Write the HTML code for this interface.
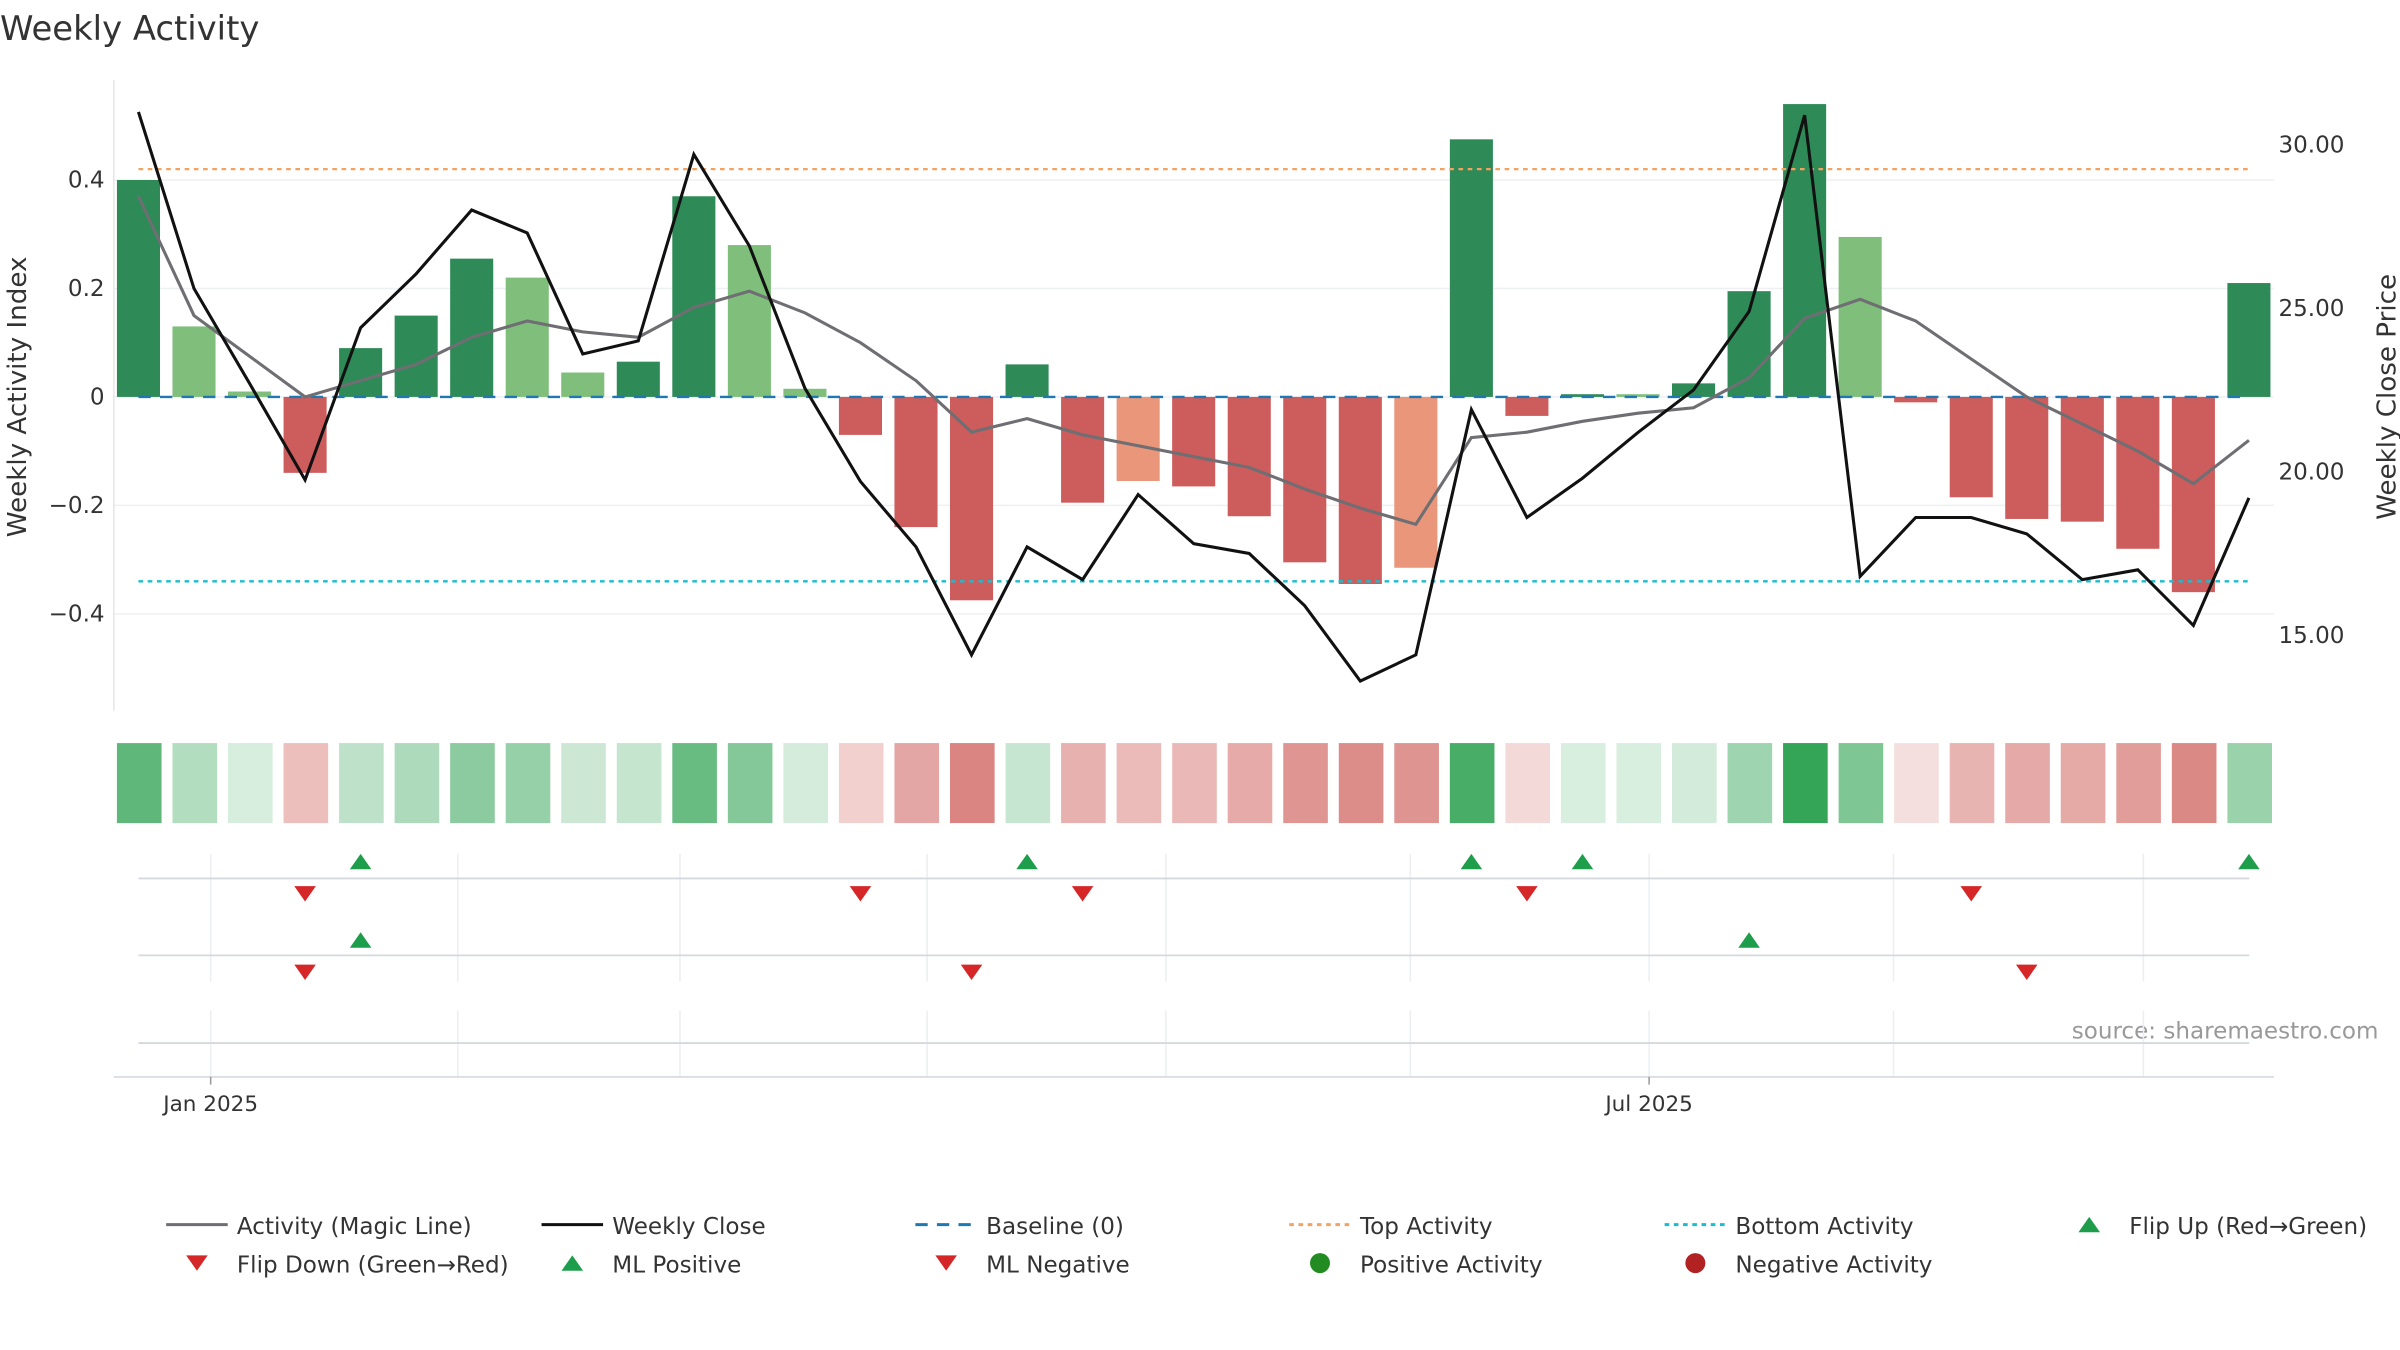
<!DOCTYPE html>
<html><head><meta charset="utf-8"><style>
html,body{margin:0;padding:0;background:#fff;}
svg{display:block;font-family:"DejaVu Sans","Liberation Sans",sans-serif;}
</style></head><body>
<svg id="c" width="2400" height="1350" viewBox="0 0 1560 877.5" xmlns="http://www.w3.org/2000/svg">
<text x="0" y="26" font-size="22" fill="#333">Weekly Activity</text>
<text transform="translate(17,258) rotate(-90)" text-anchor="middle" font-size="17" fill="#333">Weekly Activity Index</text>
<text transform="translate(1557,258) rotate(-90)" text-anchor="middle" font-size="17" fill="#333">Weekly Close Price</text>
<text x="1546" y="675" text-anchor="end" font-size="15" fill="#999">source: sharemaestro.com</text>
<g id="g"></g>
</svg>
<script>
const activity=[0.40,0.13,0.01,-0.14,0.09,0.15,0.255,0.22,0.045,0.065,0.37,0.28,0.015,-0.07,-0.24,-0.375,0.06,-0.195,-0.155,-0.165,-0.22,-0.305,-0.345,-0.315,0.475,-0.035,0.005,0.005,0.025,0.195,0.54,0.295,-0.01,-0.185,-0.225,-0.23,-0.28,-0.36,0.21];
const barKind=["d","l","l","r","d","d","d","l","l","d","d","l","l","r","r","r","d","r","s","r","r","r","r","s","d","r","d","l","d","d","d","l","r","r","r","r","r","r","d"];
const magic=[0.37,0.15,0.075,0.0,0.03,0.06,0.11,0.14,0.12,0.11,0.165,0.195,0.155,0.10,0.03,-0.065,-0.04,-0.07,-0.09,-0.11,-0.13,-0.17,-0.205,-0.235,-0.075,-0.065,-0.045,-0.03,-0.02,0.035,0.145,0.18,0.14,0.07,0.0,-0.05,-0.10,-0.16,-0.08];
const close=[31.0,25.6,22.7,19.75,24.4,26.05,28.0,27.3,23.6,24.0,29.7,26.9,22.55,19.7,17.7,14.4,17.7,16.7,19.3,17.8,17.5,15.9,13.6,14.4,21.9,18.6,19.8,21.2,22.5,24.9,30.9,16.8,18.6,18.6,18.1,16.7,17.0,15.3,19.2];
const flipUp1=[4,16,24,26,38], flipDown1=[3,13,17,25,33];
const mlPos=[4,29], mlNeg=[3,15,34];
const leftTicks=[0.4,0.2,0,-0.2,-0.4], leftTickLabels=["0.4","0.2","0","−0.2","−0.4"];
const rightTicks=[30,25,20,15], rightTickLabels=["30.00","25.00","20.00","15.00"];
const topActivity=0.42, bottomActivity=-0.34;
const monthIdx=[1.3,5.75,9.75,14.2,18.5,22.9,27.2,31.6,36.1];
const dateLabels=[["Jan 2025",1.3],["Jul 2025",27.2]];

const NS="http://www.w3.org/2000/svg", g=document.getElementById('g');
function el(t,a,p){const e=document.createElementNS(NS,t);for(const k in a)e.setAttribute(k,a[k]);(p||g).appendChild(e);return e;}
const X=i=>90+i*36.1;
const Y=v=>258-v*352.5;
const Y2=p=>94+(30-p)*21.26;

// grid
leftTicks.forEach((t,i)=>{
 const l=el('line',{x1:74,x2:1478,y1:Y(t),y2:Y(t),stroke:'#eef0f3','stroke-width':1});
 
 const tx=el('text',{x:68,y:Y(t)+5,'text-anchor':'end','font-size':15,fill:'#333'});tx.textContent=leftTickLabels[i];
 
});
rightTicks.forEach((t,i)=>{
 const tx=el('text',{x:1481,y:Y2(t)+5,'font-size':15,fill:'#333'});tx.textContent=rightTickLabels[i];
 
});
el('line',{x1:74,x2:74,y1:52,y2:462,stroke:'#e6e6e6'});
// bars
const colors={d:'#2e8b57',l:'#7fbf7b',r:'#cd5c5c',s:'#e9967a'};
activity.forEach((v,i)=>{
 const b=el('rect',{x:X(i)-14,y:Math.min(Y(v),Y(0)),width:28,height:Math.abs(Y(v)-Y(0)),fill:colors[barKind[i]]});
 
});
// reference lines
let r=el('line',{x1:90,x2:1462,y1:Y(0),y2:Y(0),stroke:'#1f77b4','stroke-width':1.5,'stroke-dasharray':'8,6'});

r=el('line',{x1:90,x2:1462,y1:Y(topActivity),y2:Y(topActivity),stroke:'#f4a261','stroke-width':1.5,'stroke-dasharray':'3,3'});

r=el('line',{x1:90,x2:1462,y1:Y(bottomActivity),y2:Y(bottomActivity),stroke:'#17becf','stroke-width':1.5,'stroke-dasharray':'3,3'});

// lines
let p=el('polyline',{points:magic.map((v,i)=>X(i)+','+Y(v)).join(' '),fill:'none',stroke:'#6e6e73','stroke-width':2});

p=el('polyline',{points:close.map((v,i)=>X(i)+','+Y2(v)).join(' '),fill:'none',stroke:'#111','stroke-width':2});

// heatmap
activity.forEach((v,i)=>{
 const a=Math.min(1,0.18+0.82*Math.abs(v)/0.55);
 const c=v>=0?'rgba(49,163,84,'+a+')':'rgba(205,90,85,'+a+')';
 const h=el('rect',{x:X(i)-14,y:483,width:29,height:52,fill:c});
 
});
// marker rows
monthIdx.forEach(m=>{
 el('line',{x1:X(m),x2:X(m),y1:555,y2:638,stroke:'#eceef2'});
 el('line',{x1:X(m),x2:X(m),y1:657,y2:700,stroke:'#eceef2'});
});
[571,621,678].forEach(y=>{const l=el('line',{x1:90,x2:1462,y1:y,y2:y,stroke:'#d5d8dd','stroke-width':1.2});
 });
function up(i,y,name){const t=el('polygon',{points:`${X(i)-7},${y+5} ${X(i)+7},${y+5} ${X(i)},${y-5}`,fill:'#1e9e4a'});
 }
function dn(i,y,name){const t=el('polygon',{points:`${X(i)-7},${y-5} ${X(i)+7},${y-5} ${X(i)},${y+5}`,fill:'#d62728'});
 }
flipUp1.forEach(i=>up(i,560,'flip-up-marker'));
flipDown1.forEach(i=>dn(i,581,'flip-down-marker'));
mlPos.forEach(i=>up(i,611,'ml-positive-marker'));
mlNeg.forEach(i=>dn(i,632,'ml-negative-marker'));
// x axis
el('line',{x1:74,x2:1478,y1:700,y2:700,stroke:'#d5d8dd'});
dateLabels.forEach(([s,i])=>{
 el('line',{x1:X(i),x2:X(i),y1:700,y2:705,stroke:'#999'});
 const t=el('text',{x:X(i),y:722,'text-anchor':'middle','font-size':14,fill:'#333'});t.textContent=s;
 
});
// legend
const L=[[108,796,'line','#6e6e73','','Activity (Magic Line)'],[352,796,'line','#111','','Weekly Close'],[595,796,'line','#1f77b4','8,6','Baseline (0)'],
[838,796,'line','#f4a261','3,3','Top Activity'],[1082,796,'line','#17becf','3,3','Bottom Activity'],[1338,796,'up','#1e9e4a','','Flip Up (Red→Green)'],
[108,821,'dn','#d62728','','Flip Down (Green→Red)'],[352,821,'up','#1e9e4a','','ML Positive'],[595,821,'dn','#d62728','','ML Negative'],
[838,821,'dot','#228b22','','Positive Activity'],[1082,821,'dot','#b22222','','Negative Activity']];
L.forEach(([x,y,k,c,d,s])=>{
 const gg=el('g',{});
 if(k=='line')el('line',{x1:x,x2:x+40,y1:y,y2:y,stroke:c,'stroke-width':2,'stroke-dasharray':d},gg);
 else if(k=='up')el('polygon',{points:`${x+13},${y+5} ${x+27},${y+5} ${x+20},${y-5}`,fill:c},gg);
 else if(k=='dn')el('polygon',{points:`${x+13},${y-5} ${x+27},${y-5} ${x+20},${y+5}`,fill:c},gg);
 else el('circle',{cx:x+20,cy:y,r:6.5,fill:c},gg);
 const t=el('text',{x:x+46,y:y+6,'font-size':15,fill:'#333'},gg);t.textContent=s;
});
</script>
</body></html>
